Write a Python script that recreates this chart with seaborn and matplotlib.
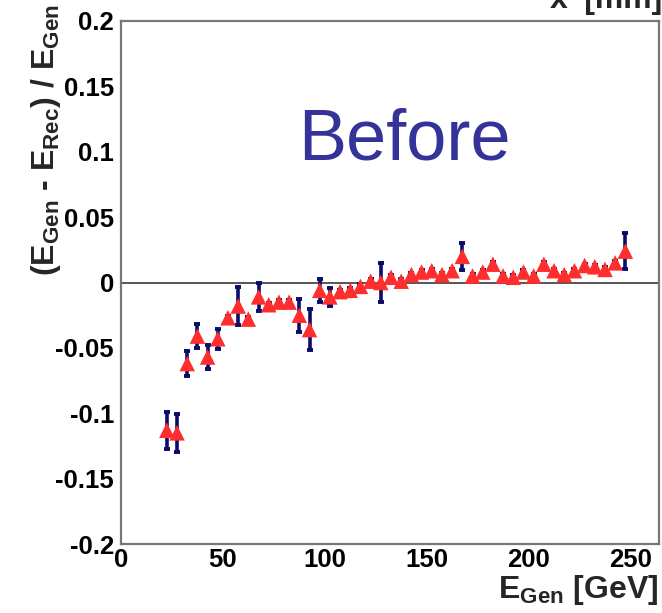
import matplotlib
matplotlib.use("Agg")
import matplotlib.pyplot as plt
from matplotlib.ticker import MultipleLocator
import seaborn as sns
import pandas as pd

# Generated energy bin centres [GeV]
e_gen = [22.5, 27.5, 32.5, 37.5, 42.5, 47.5, 52.5, 57.5, 62.5, 67.5,
         72.5, 77.5, 82.5, 87.5, 92.5, 97.5, 102.5, 107.5, 112.5, 117.5,
         122.5, 127.5, 132.5, 137.5, 142.5, 147.5, 152.5, 157.5, 162.5, 167.5,
         172.5, 177.5, 182.5, 187.5, 192.5, 197.5, 202.5, 207.5, 212.5, 217.5,
         222.5, 227.5, 232.5, 237.5, 242.5, 247.5]

# Relative energy residual (E_Gen - E_Rec) / E_Gen
residual = [-0.113, -0.115, -0.062, -0.041, -0.057, -0.043, -0.027, -0.018, -0.028, -0.011,
            -0.017, -0.015, -0.015, -0.025, -0.036, -0.006, -0.011, -0.007, -0.006, -0.003,
            0.001, 0.000, 0.004, 0.001, 0.006, 0.008, 0.009, 0.006, 0.009, 0.020,
            0.005, 0.008, 0.014, 0.005, 0.004, 0.008, 0.005, 0.014, 0.009, 0.006,
            0.009, 0.013, 0.012, 0.010, 0.015, 0.024]

# Statistical uncertainty on each residual
residual_err = [0.014, 0.0145, 0.0095, 0.009, 0.009, 0.0075, 0.0015, 0.0145, 0.0015, 0.011,
                0.0015, 0.0015, 0.0015, 0.0125, 0.0155, 0.0087, 0.007, 0.0015, 0.0015, 0.0015,
                0.0015, 0.015, 0.0015, 0.0015, 0.0015, 0.0015, 0.0015, 0.0015, 0.0015, 0.0105,
                0.0015, 0.0015, 0.0015, 0.0015, 0.0015, 0.0015, 0.0015, 0.0015, 0.0015, 0.0015,
                0.0015, 0.0015, 0.0015, 0.0015, 0.0015, 0.014]

x_ticks = [0, 50, 100, 150, 200, 250]
y_ticks = [-0.2, -0.15, -0.1, -0.05, 0, 0.05, 0.1, 0.15, 0.2]
y_tick_labels = ["-0.2", "-0.15", "-0.1", "-0.05", "0", "0.05", "0.1", "0.15", "0.2"]

df = pd.DataFrame({"E_gen": e_gen, "res": residual, "err": residual_err})

sns.set_style("white")
plt.rcParams["font.family"] = ["Liberation Sans", "DejaVu Sans"]
plt.rcParams["mathtext.fontset"] = "custom"
plt.rcParams["mathtext.rm"] = "Liberation Sans"
plt.rcParams["mathtext.bf"] = "Liberation Sans:bold"
plt.rcParams["mathtext.it"] = "Liberation Sans:italic"

W, H = 662, 613
fig = plt.figure(figsize=(W / 100, H / 100), dpi=100)
ax = fig.add_axes([121 / W, (H - 544) / H, (659 - 121) / W, (544 - 21) / H])

frame_col = "#777777"

# zero reference line
ax.axhline(0, color="#555555", lw=1.4, zorder=1)

# uncertainty bars beneath the markers
ax.errorbar(df["E_gen"], df["res"], yerr=df["err"], fmt="none",
            ecolor="#0b0b6a", elinewidth=2.6, capsize=2.4, capthick=2.8, zorder=2)

sns.scatterplot(data=df, x="E_gen", y="res", marker="^", s=125,
                color="#ff2e2e", edgecolor="none", linewidth=0, ax=ax, zorder=3)

ax.set_xlim(0, 264)
ax.set_ylim(-0.2, 0.2)
ax.set_xticks(x_ticks)
ax.set_xticklabels([str(v) for v in x_ticks])
ax.set_yticks(y_ticks)
ax.set_yticklabels(y_tick_labels)
ax.xaxis.set_minor_locator(MultipleLocator(10))
ax.yaxis.set_minor_locator(MultipleLocator(0.01))

ax.tick_params(axis="both", which="both", direction="in", colors=frame_col,
               labelcolor="black", top=False, right=False)
ax.tick_params(axis="both", which="major", length=14, width=1.4)
ax.tick_params(axis="both", which="minor", length=7, width=1.2)
ax.tick_params(axis="x", which="major", pad=3)
ax.tick_params(axis="y", which="major", pad=5)
for lab in ax.get_xticklabels() + ax.get_yticklabels():
    lab.set_fontsize(18.5)
    lab.set_fontweight("bold")

for sp in ax.spines.values():
    sp.set_color(frame_col)
    sp.set_linewidth(1.6)

ax.set_xlabel("")
ax.set_ylabel("")

# axis titles
fig.text(659 / W, 1 - 598 / H, r"$\mathbf{E_{Gen}}$ [GeV]", ha="right", va="baseline",
         fontsize=23, fontweight="bold")
fig.text(46 / W, 1 - 4 / H,
         r"($\mathbf{E_{Gen}}$ - $\mathbf{E_{Rec}}$) / $\mathbf{E_{Gen}}$",
         rotation=90, ha="center", va="top", fontsize=23, fontweight="bold")

ax.text(139, 0.108, "Before", ha="center", va="center", fontsize=52, color="#333399")

fig.text(550 / W, 1 - 8 / H, "x' [mm]", ha="left", va="baseline",
         fontsize=23, fontweight="bold")

fig.savefig("out.png", dpi=100)
